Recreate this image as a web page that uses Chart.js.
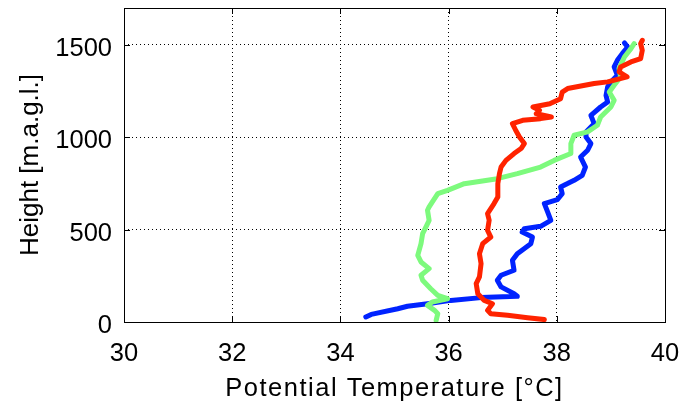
<!DOCTYPE html>
<html>
<head>
<meta charset="utf-8">
<script src="https://cdn.jsdelivr.net/npm/chart.js@4/dist/chart.umd.min.js"></script>
<style>
  body { margin: 0; background: #fff; }
  #wrap { position: relative; width: 684px; height: 412px; }
</style>
</head>
<body>
<div id="wrap"><canvas id="c"></canvas></div>
<script>
// profiles: [temperature, height]
var blueTemp = [34.47, 34.57, 35.06, 35.24, 35.61, 36.04, 36.60, 37.27, 37.21, 36.97, 36.90, 36.97, 37.21, 37.18, 37.27, 37.52, 37.55, 37.36, 37.40, 37.70, 37.89, 37.83, 37.77, 38.01, 38.10, 38.07, 38.32, 38.47, 38.53, 38.44, 38.57, 38.63, 38.54, 38.54, 38.69, 38.63, 38.81, 38.94, 38.91, 38.94, 39.00, 39.12, 39.06, 39.12, 39.21, 39.31, 39.25];
var blueHeight = [27, 41, 72, 85, 99, 117, 132, 139, 153, 190, 226, 253, 280, 334, 370, 424, 460, 487, 505, 518, 550, 596, 641, 662, 695, 731, 767, 794, 839, 893, 930, 966, 1002, 1029, 1074, 1119, 1164, 1191, 1227, 1273, 1300, 1336, 1381, 1417, 1453, 1489, 1511];

var greenTemp = [35.77, 35.80, 35.74, 35.61, 35.70, 35.98, 35.80, 35.67, 35.52, 35.49, 35.64, 35.49, 35.43, 35.49, 35.52, 35.58, 35.64, 35.61, 35.64, 35.80, 35.98, 36.29, 36.90, 37.27, 37.70, 37.95, 38.26, 38.26, 38.32, 38.57, 38.75, 38.81, 39.00, 39.06, 38.97, 39.06, 39.18, 39.15, 39.25, 39.37, 39.43];
var greenHeight = [9, 45, 63, 90, 108, 126, 144, 180, 226, 253, 289, 325, 361, 424, 478, 514, 550, 605, 623, 695, 713, 749, 776, 803, 839, 875, 912, 966, 1011, 1029, 1065, 1110, 1164, 1200, 1245, 1282, 1327, 1372, 1435, 1480, 1507];

var redTemp = [37.77, 37.46, 37.09, 36.78, 36.72, 36.81, 36.66, 36.54, 36.51, 36.57, 36.60, 36.57, 36.63, 36.78, 36.72, 36.75, 36.72, 36.84, 36.91, 36.91, 36.94, 36.97, 37.06, 37.21, 37.34, 37.40, 37.31, 37.24, 37.18, 37.37, 37.70, 37.90, 37.62, 37.68, 37.56, 37.87, 38.07, 38.10, 38.20, 38.69, 38.94, 39.30, 39.15, 39.18, 39.37, 39.55, 39.58, 39.55, 39.58];
var redHeight = [13, 23, 36, 45, 63, 99, 117, 153, 208, 244, 316, 370, 424, 460, 496, 551, 587, 641, 677, 749, 803, 839, 875, 912, 939, 966, 1002, 1038, 1074, 1092, 1101, 1110, 1128, 1146, 1164, 1182, 1209, 1245, 1264, 1291, 1300, 1327, 1354, 1381, 1408, 1426, 1471, 1507, 1525];

var xTicks = [30, 32, 34, 36, 38, 40];
var yTicks = [0, 500, 1000, 1500];

function pts(xs, ys) {
  return xs.map(function (x, i) { return { x: x, y: ys[i] }; });
}

// matlab style box with inward ticks, plus wider spacing for the x title
var boxPlugin = {
  id: 'box',
  beforeDraw: function (chart) {
    var s = chart.scales.x;
    if (!s._spaced) {
      var orig = s.drawTitle;
      s.drawTitle = function () {
        this.ctx.save();
        this.ctx.letterSpacing = '1.5px';
        orig.apply(this, arguments);
        this.ctx.restore();
      };
      s._spaced = true;
    }
  },
  afterDraw: function (chart) {
    var ctx = chart.ctx, a = chart.chartArea;
    var xs = chart.scales.x, ys = chart.scales.y;
    ctx.save();
    ctx.strokeStyle = '#000';
    ctx.lineWidth = 1;
    ctx.strokeRect(a.left + 0.5, a.top + 0.5, a.right - a.left, a.bottom - a.top);
    ctx.beginPath();
    xTicks.forEach(function (t) {
      var px = Math.round(xs.getPixelForValue(t)) + 0.5;
      ctx.moveTo(px, a.bottom); ctx.lineTo(px, a.bottom - 6);
      ctx.moveTo(px, a.top); ctx.lineTo(px, a.top + 6);
    });
    yTicks.forEach(function (t) {
      var py = Math.round(ys.getPixelForValue(t)) + 0.5;
      ctx.moveTo(a.left, py); ctx.lineTo(a.left + 6, py);
      ctx.moveTo(a.right, py); ctx.lineTo(a.right - 6, py);
    });
    ctx.stroke();
    ctx.restore();
  }
};

var tickFont = { family: 'Liberation Sans, Arial, sans-serif', size: 25.5 };
var titleFont = { family: 'Liberation Sans, Arial, sans-serif', size: 26 };

new Chart(document.getElementById('c'), {
  type: 'scatter',
  data: {
    datasets: [
      { label: 'red', data: pts(redTemp, redHeight), borderColor: 'rgb(255,35,0)' },
      { label: 'green', data: pts(greenTemp, greenHeight), borderColor: 'rgb(125,250,125)' },
      { label: 'blue', data: pts(blueTemp, blueHeight), borderColor: 'rgb(0,35,255)' }
    ].map(function (d) {
      d.showLine = true; d.borderWidth = 5; d.pointRadius = 0; d.tension = 0;
      d.borderJoinStyle = 'round'; d.borderCapStyle = 'round';
      return d;
    })
  },
  options: {
    responsive: true,
    maintainAspectRatio: false,
    animation: false,
    locale: 'en-US',
    layout: { padding: { top: 8, right: 19, left: 0, bottom: 0 } },
    plugins: { legend: { display: false }, tooltip: { enabled: false } },
    scales: {
      x: {
        type: 'linear', min: 30, max: 40,
        afterBuildTicks: function (s) { s.ticks = xTicks.map(function (v) { return { value: v }; }); },
        afterFit: function (s) { s.height = 90; s.paddingRight = 0; s.paddingLeft = 0; },
        grid: { color: '#000', lineWidth: 1, drawTicks: false },
        border: { display: false, dash: [1, 3] },
        ticks: { color: '#000', font: tickFont, padding: 17, maxRotation: 0,
                 callback: function (v) { return String(v); } },
        title: { display: true, text: 'Potential Temperature [°C]', color: '#000',
                 font: { family: tickFont.family, size: 25.5 }, padding: { top: 2, bottom: 8 } }
      },
      y: {
        type: 'linear', min: 0, max: 1700,
        afterBuildTicks: function (s) { s.ticks = yTicks.map(function (v) { return { value: v }; }); },
        afterFit: function (s) { s.width = 124; s.paddingTop = 0; s.paddingBottom = 0; },
        grid: { color: '#000', lineWidth: 1, drawTicks: false },
        border: { display: false, dash: [1, 3] },
        ticks: { color: '#000', font: tickFont, padding: 12, labelOffset: 4,
                 callback: function (v) { return String(v); } },
        title: { display: true, text: 'Height [m.a.g.l.]', color: '#000', font: titleFont,
                 padding: { top: 15, bottom: 0 } }
      }
    }
  },
  plugins: [boxPlugin]
});
</script>
</body>
</html>
